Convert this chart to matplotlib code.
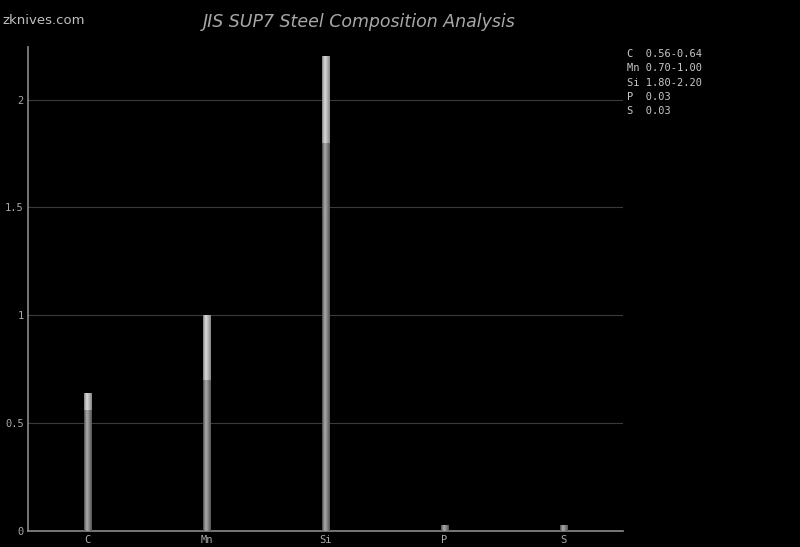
import matplotlib
matplotlib.use("Agg")
import matplotlib.pyplot as plt
import numpy as np
from matplotlib.colors import LinearSegmentedColormap

elements = ["C", "Mn", "Si", "P", "S"]
min_vals = [0.56, 0.70, 1.80, 0.03, 0.03]
max_vals = [0.64, 1.00, 2.20, 0.03, 0.03]
legend_lines = ["C  0.56-0.64", "Mn 0.70-1.00", "Si 1.80-2.20", "P  0.03", "S  0.03"]
yticks = [0, 0.5, 1, 1.5, 2]
ytick_labels = ["0", "0.5", "1", "1.5", "2"]

fig = plt.figure(figsize=(8, 5.47), dpi=100, facecolor="black")
ax = fig.add_axes([28/800, 1-531/547, (623-28)/800, (531-47)/547], facecolor="black")

x = np.arange(len(elements))
w = 0.059
ax.set_xlim(-0.5, len(elements) - 0.5)
ax.set_ylim(0, 2.244)

def shaded_bar(xc, y0, y1, lo, hi):
    if y1 <= y0:
        return
    bars = ax.bar([xc], [y1 - y0], bottom=[y0], width=w, color="none", edgecolor="none", zorder=3)
    patch = bars[0]
    grad = np.array([[0.45, 0.75, 1.0, 0.9, 0.75, 0.6, 0.45]])
    cmap = LinearSegmentedColormap.from_list("g", [lo, hi])
    img = ax.imshow(grad, cmap=cmap, vmin=0.4, vmax=1.0, aspect="auto",
                    extent=[xc - w/2, xc + w/2, y0, y1], zorder=3,
                    interpolation="bilinear")
    img.set_clip_path(patch)

for xi, lo_v, hi_v in zip(x, min_vals, max_vals):
    shaded_bar(xi, 0, lo_v, "#555555", "#a8a8a8")
    if hi_v > lo_v:
        shaded_bar(xi, lo_v, hi_v, "#888888", "#d8d8d8")

ax.set_xticks(x)
ax.set_xticklabels(elements)
ax.set_yticks(yticks)
ax.set_yticklabels(ytick_labels)
ax.tick_params(axis="both", length=0, colors="#aaaaaa", labelsize=7.5, pad=3)
for lbl in ax.get_xticklabels() + ax.get_yticklabels():
    lbl.set_family("DejaVu Sans Mono")
ax.grid(axis="y", color="#3a3a3a", linewidth=0.8, zorder=0)
ax.set_axisbelow(True)
for s in ["top", "right"]:
    ax.spines[s].set_visible(False)
for s in ["left", "bottom"]:
    ax.spines[s].set_color("#8a8a8a")
    ax.spines[s].set_linewidth(1.2)

fig.text(359/800, 1-22/547, "JIS SUP7 Steel Composition Analysis", ha="center", va="center",
         color="#a8a8a8", fontsize=12.5, style="italic", family="DejaVu Sans")
fig.text(2/800, 1-21/547, "zknives.com", ha="left", va="center", color="#c0c0c0",
         fontsize=9.5, family="DejaVu Sans")

for i, line in enumerate(legend_lines):
    fig.text(627/800, 1-(54 + i*14.3)/547, line, ha="left", va="center",
             color="#c8c8c8", fontsize=7.5, family="DejaVu Sans Mono")

fig.savefig("out.png", dpi=100, facecolor="black")
